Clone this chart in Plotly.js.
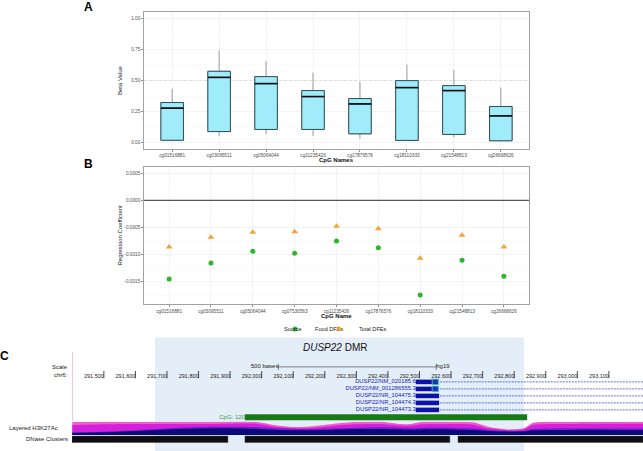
<!DOCTYPE html>
<html><head><meta charset="utf-8">
<script src="https://cdn.plot.ly/plotly-3.0.1.min.js"></script>
<style>html,body{margin:0;padding:0;background:#fff}#chart{width:643px;height:451px}</style>
</head><body><div id="chart"></div>
<script>
// ---------- Panel A data ----------
const cgA = ["cg01516881","cg03095511","cg05064044","cg11235426","cg17876576","cg18110333","cg21548813","cg26668626"];
const boxLow  = [0.014,0.054,0.070,0.056,0.035,0.015,0.043,0.012];
const boxQ1   = [0.020,0.090,0.107,0.107,0.072,0.019,0.067,0.016];
const boxMed  = [0.278,0.525,0.475,0.371,0.312,0.443,0.419,0.216];
const boxQ3   = [0.323,0.574,0.531,0.419,0.355,0.499,0.459,0.291];
const boxHigh = [0.435,0.740,0.654,0.563,0.488,0.627,0.584,0.443];

// ---------- Panel B data ----------
const cgB = ["cg01516881","cg03095511","cg05064044","cg07530563","cg11235426","cg17876576","cg18110333","cg21548813","cg26668626"];
const foodDFE  = [-0.001452,-0.001157,-0.000941,-0.000978,-0.000751,-0.000875,-0.001747,-0.001107,-0.001402];
const totalDFE = [-0.000862,-0.000683,-0.000590,-0.000579,-0.000480,-0.000524,-0.001070,-0.000646,-0.000862];

// ---------- Panel C data (hg19 chr6) ----------
const viewRange = [291399, 293208];
const dmrRange = [291662, 292831];
const rulerTicks = [291500,291600,291700,291800,291900,292000,292100,292200,292300,292400,292500,292600,292700,292800,292900,293000,293100];
const scaleBar = [292053, 292553];
const txNames = ["DUSP22/NM_020185.6","DUSP22/NM_001286555.3","DUSP22/NR_104475.3","DUSP22/NR_104474.3","DUSP22/NR_104473.3"];
const txStart = [292488,292488,292488,292488,292488];
const txExonEnd = [292540,292540,292562,292562,292562];
const txExon2 = [[292540,292560],[292540,292560],null,null,null];
const txEnd = [293208,293208,293208,293208,293208];
const cpgIsland = [291947, 292841];
const cpgLabel = "CpG: 120";
const dnaseStart = [291399, 291947, 292622];
const dnaseEnd   = [291893, 292596, 293208];
const h3Pos  = [291400,291500,291600,291700,291800,291900,291980,292050,292110,292170,292230,292300,292380,292430,292470,292510,292600,292670,292720,292780,292830,292860,292950,293050,293208];
const h3Pink = [1.0,1.0,1.0,1.0,1.0,1.0,1.0,0.72,0.6,0.68,0.85,0.98,1.0,0.85,0.82,1.0,1.0,0.95,0.6,0.42,0.5,0.92,1.0,1.0,1.0];
const h3Mag  = [0.75,0.8,0.82,0.82,0.82,0.85,0.85,0.6,0.5,0.55,0.7,0.8,0.82,0.72,0.7,0.8,0.82,0.78,0.5,0.36,0.42,0.75,0.82,0.85,0.85];
const h3Pur  = [0.2,0.25,0.35,0.5,0.6,0.62,0.6,0.5,0.45,0.45,0.5,0.55,0.58,0.55,0.52,0.55,0.55,0.5,0.38,0.3,0.32,0.45,0.5,0.5,0.48];
const h3Navy = [0.15,0.2,0.3,0.42,0.48,0.5,0.45,0.38,0.35,0.36,0.4,0.45,0.45,0.42,0.4,0.42,0.42,0.38,0.3,0.25,0.26,0.35,0.38,0.4,0.38];

// ---------- geometry helpers (layout) ----------
const W = 643, H = 451;
const px = v => v / W, py = v => 1 - v / H;
const idxA = cgA.map((_, i) => i + 1);
const idxB = cgB.map((_, i) => i + 1);
const halfBox = 0.24;
const FONT = "Liberation Sans, Arial, sans-serif";

const traces = [];
// whiskers (gray)
traces.push({type:'box', x:idxA, q1:boxQ1, median:boxMed, q3:boxQ3, lowerfence:boxLow, upperfence:boxHigh,
  width:0.48, whiskerwidth:0, line:{color:'#9a9a9a', width:1}, fillcolor:'rgba(0,0,0,0)',
  xaxis:'x', yaxis:'y', showlegend:false, hoverinfo:'skip'});
// boxes
traces.push({type:'box', x:idxA, q1:boxQ1, median:boxMed, q3:boxQ3, lowerfence:boxQ1, upperfence:boxQ3,
  width:0.48, whiskerwidth:0, line:{color:'#2d4f5a', width:1}, fillcolor:'#A0ECFB',
  xaxis:'x', yaxis:'y', showlegend:false, hoverinfo:'skip'});
// medians
const mx = [], my = [];
idxA.forEach((c, i) => { mx.push(c - halfBox, c + halfBox, null); my.push(boxMed[i], boxMed[i], null); });
traces.push({type:'scatter', mode:'lines', x:mx, y:my, line:{color:'#0a0a0a', width:1.6},
  xaxis:'x', yaxis:'y', showlegend:false, hoverinfo:'skip'});

// Panel B points
traces.push({type:'scatter', mode:'markers', name:'Food DFEs', x:idxB, y:foodDFE, legend:'legend',
  marker:{symbol:'circle', size:5, color:'#2DB52D'}, xaxis:'x2', yaxis:'y2'});
traces.push({type:'scatter', mode:'markers', name:'Total DFEs', x:idxB, y:totalDFE, legend:'legend2',
  marker:{symbol:'triangle-up', size:6, color:'#F4A232'}, xaxis:'x2', yaxis:'y2'});

// Panel C: H3K27Ac layers
[[h3Pink,'#F25DC6'],[h3Mag,'#D61FDA'],[h3Pur,'#6A22C8'],[h3Navy,'#0A0A78']].forEach(([vals,col]) => {
  traces.push({type:'scatter', mode:'lines', x:h3Pos, y:vals, fill:'tozeroy', fillcolor:col,
    line:{width:0, color:col, shape:'spline', smoothing:0.6}, xaxis:'x3', yaxis:'y4', showlegend:false, hoverinfo:'skip'});
});

// ruler tick bars
const rbx = [], rby = [];
rulerTicks.forEach(t => { rbx.push(t, t, null); rby.push(371.0, 378.3, null); });
traces.push({type:'scatter', mode:'lines', x:rbx, y:rby, line:{color:'#222', width:0.8},
  xaxis:'x3', yaxis:'y3', showlegend:false, hoverinfo:'skip'});

// Gene rows
const rowY0 = 381.9, rowStep = 7.0;
const rowY = txNames.map((_, i) => rowY0 + i * rowStep);
const lx = [], ly = [];
txNames.forEach((_, i) => { lx.push(txStart[i], txEnd[i], null); ly.push(rowY[i], rowY[i], null); });
traces.push({type:'scatter', mode:'lines', x:lx, y:ly, line:{color:'#3a4ccc', width:0.8, dash:'2px,1px'},
  xaxis:'x3', yaxis:'y3', showlegend:false, hoverinfo:'skip'});
traces.push({type:'scatter', mode:'text', x:txStart, y:rowY, text:txNames, textposition:'middle left',
  textfont:{family:FONT, size:5.8, color:'#1b1bb0'}, xaxis:'x3', yaxis:'y3', showlegend:false, hoverinfo:'skip'});
// CpG label
traces.push({type:'scatter', mode:'text', x:[cpgIsland[0]], y:[417.3], text:[cpgLabel], textposition:'middle left',
  textfont:{family:FONT, size:6, color:'#2e9e2e'}, xaxis:'x3', yaxis:'y3', showlegend:false, hoverinfo:'skip'});
// scale bar
traces.push({type:'scatter', mode:'lines', x:[scaleBar[0],scaleBar[0],null,scaleBar[0],scaleBar[1],null,scaleBar[1],scaleBar[1]],
  y:[363.8,370,null,366.9,366.9,null,363.8,370], line:{color:'#555', width:0.7}, xaxis:'x3', yaxis:'y3', showlegend:false, hoverinfo:'skip'});
traces.push({type:'scatter', mode:'text', x:[scaleBar[0], scaleBar[1]], y:[366.5,366.5], text:['500 bases','hg19'],
  textposition:['middle left','middle right'], textfont:{family:FONT, size:6, color:'#222'},
  xaxis:'x3', yaxis:'y3', showlegend:false, hoverinfo:'skip'});

// shapes
const shapes = [];
shapes.push({type:'rect', xref:'x3', yref:'paper', x0:dmrRange[0], x1:dmrRange[1], y0:0, y1:py(337.5),
  fillcolor:'#E4EEF9', line:{width:0}, layer:'below'});
shapes.push({type:'line', xref:'x domain', yref:'y', x0:0, x1:1, y0:0.5, y1:0.5, line:{color:'#c4c4c4', width:0.8, dash:'3px,2px'}, layer:'below'});
shapes.push({type:'line', xref:'x2 domain', yref:'y2', x0:0, x1:1, y0:0, y1:0, line:{color:'#555', width:1.2}});
shapes.push({type:'line', xref:'paper', yref:'paper', x0:px(72.5), x1:px(72.5), y0:py(352), y1:py(421), line:{color:'#f4c6dc', width:1}});
// gene blocks
txNames.forEach((_, i) => {
  shapes.push({type:'rect', xref:'x3', yref:'y3', x0:txStart[i], x1:txExonEnd[i], y0:rowY[i]-2.3, y1:rowY[i]+2.3,
    fillcolor:'#0c12a8', line:{width:0}});
  if (txExon2[i]) shapes.push({type:'rect', xref:'x3', yref:'y3', x0:txExon2[i][0], x1:txExon2[i][1], y0:rowY[i]-2.8, y1:rowY[i]+2.8,
    fillcolor:'#1a36b8', line:{width:0.8, color:'#55c8b8'}});
});
// CpG island
shapes.push({type:'rect', xref:'x3', yref:'y3', x0:cpgIsland[0], x1:cpgIsland[1], y0:414.3, y1:420.3, fillcolor:'#177a17', line:{width:0}});
// DNase clusters
dnaseStart.forEach((s, i) => shapes.push({type:'rect', xref:'x3', yref:'y3', x0:s, x1:dnaseEnd[i], y0:436, y1:442.5,
  fillcolor:'#0e0e10', line:{width:0.5, color:'#444'}}));

const ann = (text, x, y, opt = {}) => Object.assign({text, x:px(x), y:py(y), xref:'paper', yref:'paper', showarrow:false,
  font:{family:FONT, size:6, color:'#222'}, xanchor:'center', yanchor:'middle'}, opt);
const annotations = [
  ann('<b>A</b>', 88, 7, {font:{family:FONT, size:12, color:'#000'}}),
  ann('<b>B</b>', 88, 164, {font:{family:FONT, size:12, color:'#000'}}),
  ann('<b>C</b>', 4, 356, {font:{family:FONT, size:12, color:'#000'}}),
  ann('Beta Value', 120, 80, {textangle:-90}),
  ann('<b>CpG Names</b>', 336.5, 160, {font:{family:FONT, size:6, color:'#111'}}),
  ann('Regression Coefficient', 119.5, 235, {textangle:-90}),
  ann('<b>CpG Name</b>', 336.5, 316, {font:{family:FONT, size:6, color:'#111'}}),
  ann('Source', 304, 329, {xanchor:'right', font:{family:FONT, size:5.6, color:'#222'}}),
  ann('<i>DUSP22</i> DMR', 335, 347, {font:{family:FONT, size:10, color:'#111'}}),
  ann('Scale', 70, 367, {xanchor:'right'}),
  ann('chr6:', 70, 375, {xanchor:'right'}),
  ann('Layered H3K27Ac', 7, 428, {xanchor:'left'}),
  ann('DNase Clusters', 70, 439.3, {xanchor:'right'}),
];

const tickFont = {family:FONT, size:4.7, color:'#4d4d4d'};
const baseX = {showline:true, mirror:true, linecolor:'#8a8a8a', linewidth:0.8, ticks:'outside', ticklen:2, tickwidth:0.6,
  tickcolor:'#444', showgrid:true, gridcolor:'#ebebeb', gridwidth:0.6, zeroline:false, tickfont:tickFont, fixedrange:true};
const legBase = {orientation:'h', y:py(329), xanchor:'left', yanchor:'middle', font:{family:FONT, size:5.6, color:'#222'},
  itemwidth:30, bgcolor:'rgba(0,0,0,0)', borderwidth:0};

const layout = {
  width:W, height:H, margin:{l:0,r:0,t:0,b:0}, paper_bgcolor:'#fff', plot_bgcolor:'rgba(0,0,0,0)',
  boxmode:'overlay', font:{family:FONT},
  xaxis: Object.assign({}, baseX, {domain:[px(144), px(529)], range:[0.4, 8.6], tickmode:'array', tickvals:idxA, ticktext:cgA, anchor:'y'}),
  yaxis: Object.assign({}, baseX, {domain:[py(149), py(12)], range:[-0.05, 1.05], tickmode:'array', tickvals:[0,0.25,0.5,0.75,1],
    ticktext:['0.00','0.25','0.50','0.75','1.00'], minor:{tickvals:[-0.125,0.125,0.375,0.625,0.875], showgrid:true, gridcolor:'#f3f3f3', gridwidth:0.4, ticks:''}, anchor:'x'}),
  xaxis2: Object.assign({}, baseX, {domain:[px(144), px(529)], range:[0.4, 9.6], tickmode:'array', tickvals:idxB, ticktext:cgB, anchor:'y2'}),
  yaxis2: Object.assign({}, baseX, {domain:[py(304.3), py(167.3)], range:[-0.00192, 0.00061], tickmode:'array',
    tickvals:[-0.0015,-0.001,-0.0005,0,0.0005], ticktext:['-0.0015','-0.0010','-0.0005','0.0000','0.0005'],
    minor:{tickvals:[-0.00175,-0.00125,-0.00075,-0.00025,0.00025], showgrid:true, gridcolor:'#f3f3f3', gridwidth:0.4, ticks:''}, anchor:'x2'}),
  xaxis3: {domain:[px(72), 1], range:viewRange, anchor:'free', position:py(384.8), side:'bottom', showline:false, showgrid:false, zeroline:false,
    tickmode:'array', tickvals:rulerTicks, ticktext:rulerTicks.map(v => v.toLocaleString('en-US')), ticks:'',
    ticklabelposition:'inside left', tickfont:{family:FONT, size:5.5, color:'#222'}, fixedrange:true},
  yaxis3: {domain:[0, py(337)], range:[451, 337], anchor:'x3', visible:false, fixedrange:true},
  yaxis4: {domain:[py(435), py(421.7)], range:[0, 1], anchor:'x3', visible:false, fixedrange:true},
  showlegend:true,
  legend: Object.assign({}, legBase, {x:px(275)}),
  legend2: Object.assign({}, legBase, {x:px(319)}),
  shapes, annotations
};
Plotly.newPlot('chart', traces, layout, {staticPlot:true, displayModeBar:false});
</script></body></html>
